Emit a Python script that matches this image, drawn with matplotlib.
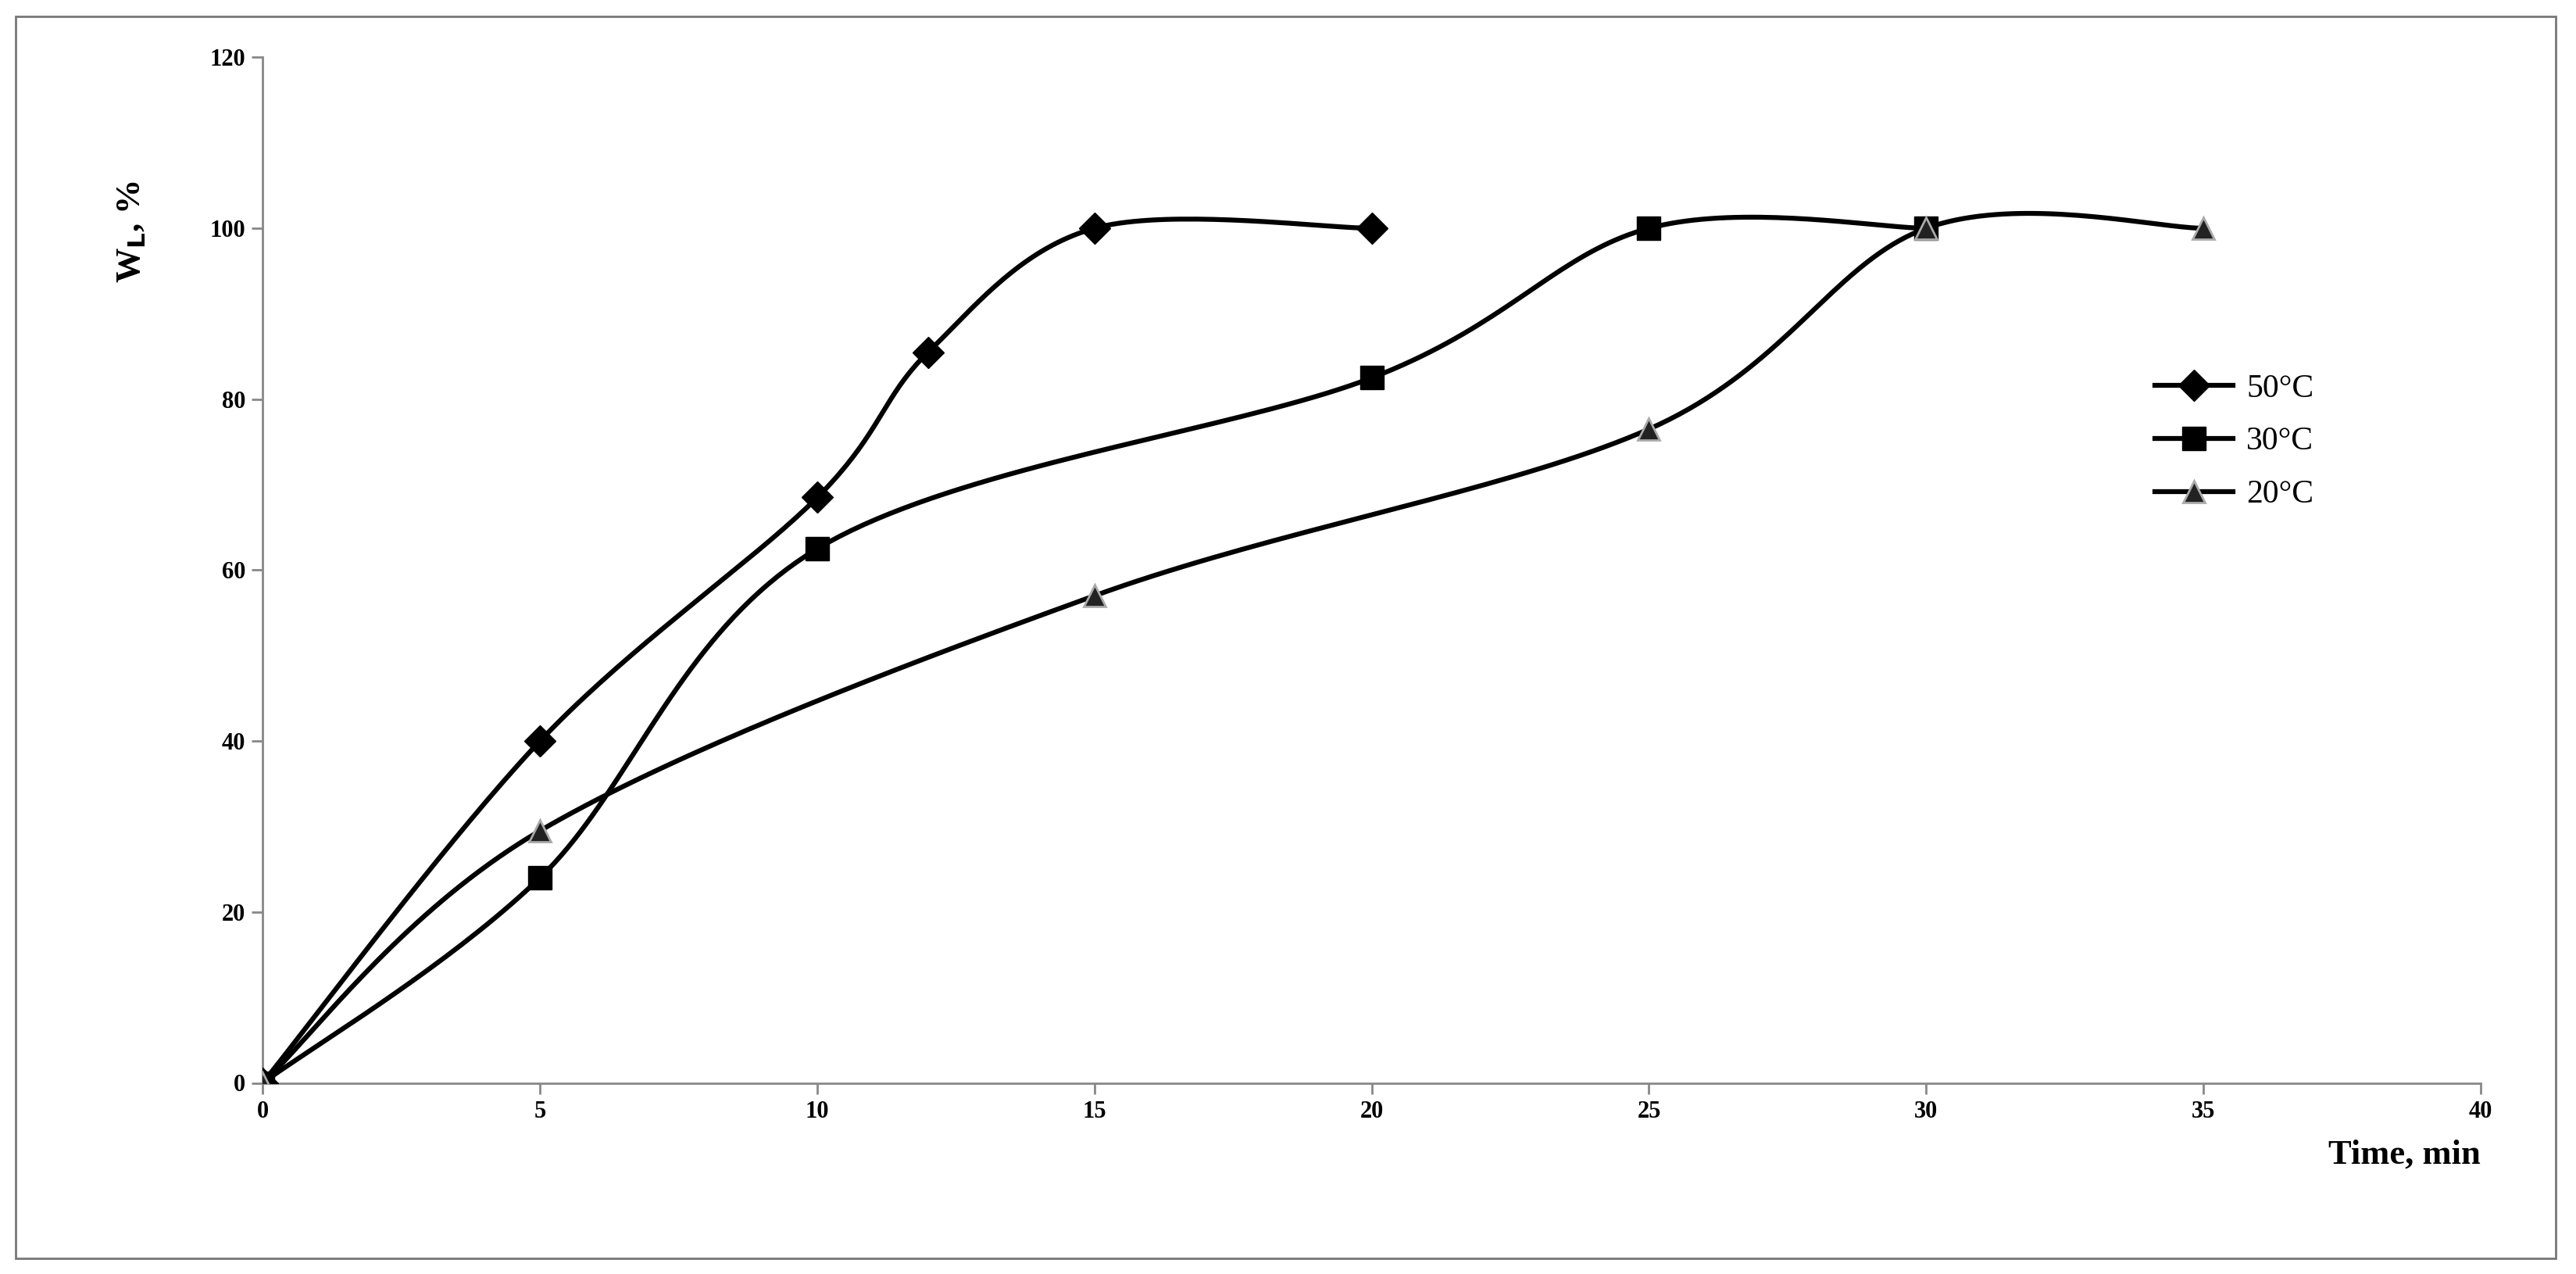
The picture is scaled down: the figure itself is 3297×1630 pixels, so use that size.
import numpy as np
import matplotlib
matplotlib.use("Agg")
import matplotlib.pyplot as plt
from matplotlib.patches import Rectangle

x50 = [0, 5, 10, 12, 15, 20]
y50 = [0, 40, 68.5, 85.5, 100, 100]
x30 = [0, 5, 10, 20, 25, 30]
y30 = [0, 24, 62.5, 82.5, 100, 100]
x20 = [0, 5, 15, 25, 30, 35]
y20 = [0, 29.5, 57, 76.5, 100, 100]
labels = ["50°C", "30°C", "20°C"]

def smooth(xs, ys, n=40, t=0.5):
    p = np.column_stack([xs, ys]).astype(float)
    p = np.vstack([p[0], p, p[-1]])
    out = []
    for i in range(1, len(p) - 2):
        p0, p1, p2, p3 = p[i-1], p[i], p[i+1], p[i+2]
        c1 = p1 + (p2 - p0) * t / 3
        c2 = p2 - (p3 - p1) * t / 3
        s = np.linspace(0, 1, n)[:, None]
        out.append((1-s)**3*p1 + 3*(1-s)**2*s*c1 + 3*(1-s)*s**2*c2 + s**3*p2)
    a = np.vstack(out)
    return a[:, 0], a[:, 1]

plt.rcParams['font.family'] = ['Liberation Serif', 'DejaVu Serif']
fig = fig = plt.figure(figsize=(32.97, 16.30), dpi=100)
fig.patches.append(Rectangle((0.006, 0.012), 0.986, 0.975, transform=fig.transFigure,
                             fill=False, edgecolor='#777777', lw=2))
ax = fig.add_axes([0.102, 0.150, 0.861, 0.805])

styles = [dict(marker='D', ms=20, mfc='black', mec='black'),
          dict(marker='s', ms=22, mfc='black', mec='black'),
          dict(marker='^', ms=20, mfc='#222222', mec='#aaaaaa', mew=2)]
for (xs, ys), lab, st in zip([(x50, y50), (x30, y30), (x20, y20)], labels, styles):
    sx, sy = smooth(xs, ys)
    ax.plot(sx, sy, color='black', lw=4.5, zorder=2)
    ax.plot(xs, ys, ls='none', zorder=3, **st)
    ax.plot([], [], color='black', lw=4.5, label=lab, **st)

ax.set_xlim(0, 40)
ax.set_ylim(0, 120)
ax.set_xticks(range(0, 41, 5))
ax.set_yticks(range(0, 121, 20))
for s in ['top', 'right']:
    ax.spines[s].set_visible(False)
for s in ['left', 'bottom']:
    ax.spines[s].set_color('#888888')
    ax.spines[s].set_linewidth(2)
ax.tick_params(direction='out', length=10, width=2, color='#888888', labelsize=22, pad=6)
for lbl in ax.get_xticklabels() + ax.get_yticklabels():
    lbl.set_fontweight('bold')
ax.set_ylabel(r'W$_\mathbf{L}$, %', fontsize=32, fontweight='bold')
ax.yaxis.set_label_coords(-0.052, 0.83)
ax.text(1.0, -0.055, 'Time, min', transform=ax.transAxes, ha='right', va='top',
        fontsize=32, fontweight='bold')
ax.legend(loc='upper left', bbox_to_anchor=(0.84, 0.72), frameon=False, fontsize=30,
          handlelength=2.4, labelspacing=0.7, handletextpad=0.4)
fig.savefig('out.png', dpi=100)
